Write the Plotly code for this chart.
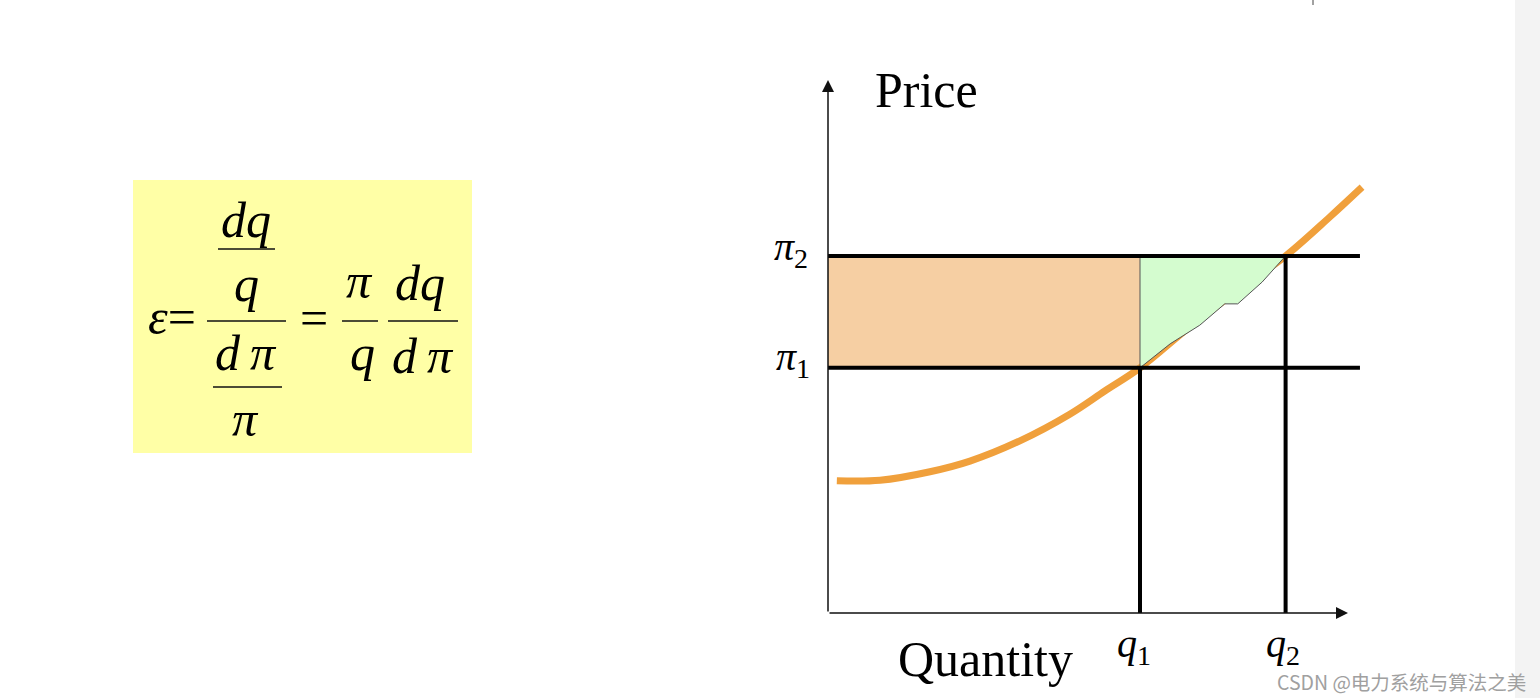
import plotly.graph_objects as go

# ---------------- data (economic units) ----------------
# supply curve (quantity, price)
curve_q = [1.7, 10.0, 19.6, 27.3, 36.9, 46.5, 53.3, 60.0, 69.6, 79.2, 88.0, 96.5, 102.7]
curve_p = [24.8, 24.9, 26.5, 28.5, 32.3, 37.3, 41.7, 46.0, 53.7, 60.8, 67.0, 74.3, 79.9]

# green surplus area boundary (follows the curve, with the small step seen in the picture)
area_q = [60.0, 65.8, 71.5, 76.3, 78.8, 83.5, 88.0, 60.0, 60.0]
area_p = [46.0, 50.5, 54.0, 58.0, 58.0, 62.1, 67.0, 67.0, 46.0]

q_levels = [60.0, 88.0]          # q1, q2
p_levels = [46.0, 67.0]          # pi1, pi2
q_labels = ["<i>q</i><sub>1</sub>", "<i>q</i><sub>2</sub>"]
p_labels = ["<i>π</i><sub>1</sub>", "<i>π</i><sub>2</sub>"]
axis_end_q = 100.0
axis_end_p = 100.0
line_end_q = 102.3
x_title = "Quantity"
y_title = "Price"
watermark = "CSDN @电力系统与算法之美"

# ---------------- layout helpers ----------------
W, H = 1540, 698
PX_Q, PX_P = 5.2, 5.33          # pixels per unit
OX, OY = 828, 613               # origin pixel
x_range = [(0 - OX) / PX_Q, (W - OX) / PX_Q]
y_range = [(OY - H) / PX_P, (OY - 0) / PX_P]

def fx(px):
    return px / W

def fy(py):
    return 1 - py / H

SERIF = "Liberation Serif"
BLACK = "#000000"

fig = go.Figure()

# supply curve
fig.add_trace(go.Scatter(
    x=curve_q, y=curve_p, mode="lines",
    line=dict(color="#F0A03C", width=7, shape="spline", smoothing=1.0),
    hoverinfo="skip"))

# green area
fig.add_trace(go.Scatter(
    x=area_q, y=area_p, mode="lines", fill="toself",
    fillcolor="#D4FCCF", line=dict(color="#555555", width=1),
    hoverinfo="skip"))

shapes = []
annotations = []

# right gray strip
shapes.append(dict(type="rect", xref="paper", yref="paper",
                   x0=fx(1515), x1=1, y0=0, y1=1,
                   fillcolor="#F3F3F3", line=dict(width=0), layer="below"))
# small tick at top
shapes.append(dict(type="line", xref="paper", yref="paper",
                   x0=fx(1313), x1=fx(1313), y0=fy(0), y1=fy(5),
                   line=dict(color="#444444", width=1)))

# orange rectangle (revenue area)
shapes.append(dict(type="rect", xref="x", yref="y",
                   x0=0, x1=q_levels[0], y0=p_levels[0], y1=p_levels[1],
                   fillcolor="#F6CFA3", line=dict(width=0), layer="below"))

# thick price lines
for p in p_levels:
    shapes.append(dict(type="line", xref="x", yref="y",
                       x0=0, x1=line_end_q, y0=p, y1=p,
                       line=dict(color=BLACK, width=4)))
# thick quantity lines
for q, p in zip(q_levels, p_levels):
    shapes.append(dict(type="line", xref="x", yref="y",
                       x0=q, x1=q, y0=0, y1=p,
                       line=dict(color=BLACK, width=4)))

# axes with arrows
annotations.append(dict(x=0, y=axis_end_p, ax=0, ay=0, xref="x", yref="y",
                        axref="x", ayref="y", showarrow=True, arrowhead=2,
                        arrowsize=1.6, arrowwidth=1.5, arrowcolor="#111111",
                        standoff=0, startstandoff=0, text=""))
annotations.append(dict(x=axis_end_q, y=0, ax=0, ay=0, xref="x", yref="y",
                        axref="x", ayref="y", showarrow=True, arrowhead=2,
                        arrowsize=1.6, arrowwidth=1.5, arrowcolor="#111111",
                        standoff=0, startstandoff=0, text=""))

def text_at(text, cx, baseline, size, sub=False, family=SERIF, color=BLACK):
    mid = baseline - (0.22 if sub else 0.3375) * size
    annotations.append(dict(text=text, x=fx(cx), y=fy(mid), xref="paper",
                            yref="paper", showarrow=False, xanchor="center",
                            yanchor="middle",
                            font=dict(family=family, size=size, color=color)))

# axis titles
text_at(y_title, 926, 107, 50)
text_at(x_title, 985, 676, 50)

# level labels
text_at(p_labels[1], 791, 258, 40, sub=True)
text_at(p_labels[0], 793, 368, 40, sub=True)
text_at(q_labels[0], 1134, 655, 40, sub=True)
text_at(q_labels[1], 1283, 655, 40, sub=True)

# ---------------- formula box ----------------
shapes.append(dict(type="rect", xref="paper", yref="paper",
                   x0=fx(133), x1=fx(472), y0=fy(453), y1=fy(180),
                   fillcolor="#FFFFA6", line=dict(width=0), layer="below"))

TS = "\u2009"
formula_texts = [
    ("<i>dq</i>", 246, 237),
    ("<i>q</i>", 246, 301),
    ("<i>d" + TS + "π</i>", 246, 370),
    ("<i>π</i>", 245, 436),
    ("<i>ε</i>=", 172, 334),
    ("=", 314, 335),
    ("<i>π</i>", 359, 298),
    ("<i>q</i>", 362, 370),
    ("<i>dq</i>", 420, 300),
    ("<i>d" + TS + "π</i>", 423, 373),
]
for t, cx, b in formula_texts:
    text_at(t, cx, b, 50)

fraction_bars = [(218, 275, 249), (207, 286, 321), (213, 282, 387),
                 (342, 378, 321), (388, 458, 321)]
for x0, x1, yy in fraction_bars:
    shapes.append(dict(type="line", xref="paper", yref="paper",
                       x0=fx(x0), x1=fx(x1), y0=fy(yy), y1=fy(yy),
                       line=dict(color="#111111", width=1.5)))

# watermark
text_at(watermark, 1401, 688, 19.5, family="Noto Sans CJK SC", color="#A0A0A0")

fig.update_layout(
    width=W, height=H,
    margin=dict(l=0, r=0, t=0, b=0),
    paper_bgcolor="white", plot_bgcolor="rgba(0,0,0,0)",
    showlegend=False,
    xaxis=dict(range=x_range, visible=False, fixedrange=True),
    yaxis=dict(range=y_range, visible=False, fixedrange=True),
    shapes=shapes, annotations=annotations,
)

fig.write_html("out.html", config=dict(displayModeBar=False),
               post_script="document.body.style.margin='0';")
